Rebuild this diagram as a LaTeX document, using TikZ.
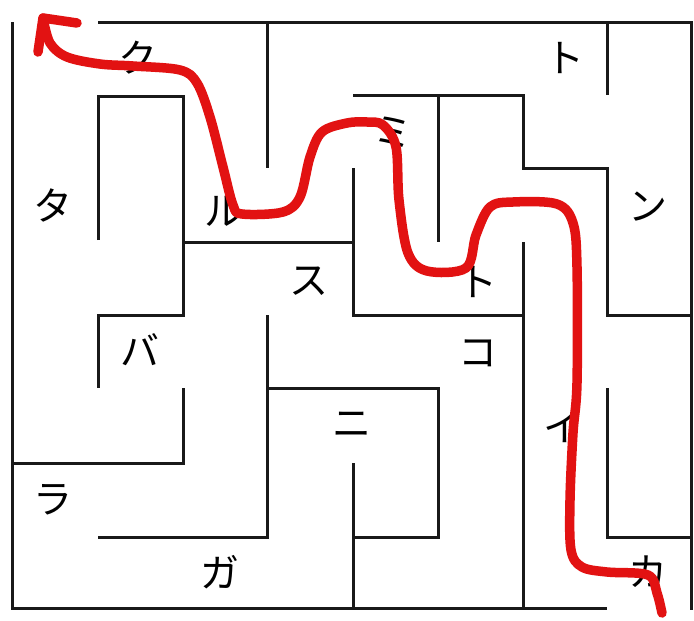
\documentclass[tikz,border=0pt]{standalone}
\usepackage{fontspec}
\newfontfamily\jpfont{Noto Sans CJK JP}
\definecolor{pathred}{RGB}{226,18,18}
\definecolor{wallgray}{RGB}{25,25,25}
\begin{document}
\begin{tikzpicture}[x=1pt,y=-1pt,
  wall/.style={draw=wallgray,line width=3pt,line join=miter},
  lbl/.style={font=\jpfont\fontsize{39}{39}\selectfont,inner sep=0pt,text=black},
  route/.style={draw=pathred,line width=9.5pt,line cap=round,line join=round}]
\useasboundingbox[fill=white] (0,0) rectangle (694,621);
% outer walls
\draw[wall] (98,22) -- (691,22) -- (691,610);
\draw[wall] (12,22) -- (12,608) -- (607,608);
% inner walls
\draw[wall] (267,22) -- (267,168);
\draw[wall] (98,240) -- (98,96) -- (183,96) -- (183,315) -- (98,315) -- (98,388);
\draw[wall] (183,242) -- (353,242);
\draw[wall] (353,168) -- (353,315) -- (523,315);
\draw[wall] (523,242) -- (523,608);
\draw[wall] (353,95) -- (523,95) -- (523,168) -- (607,168) -- (607,315) -- (691,315);
\draw[wall] (438,95) -- (438,242);
\draw[wall] (607,22) -- (607,95);
\draw[wall] (183,388) -- (183,463) -- (12,463);
\draw[wall] (267,315) -- (267,537) -- (98,537);
\draw[wall] (267,388) -- (438,388) -- (438,537) -- (353,537);
\draw[wall] (353,463) -- (353,608);
\draw[wall] (607,388) -- (607,537) -- (691,537);
% labels
\node[lbl] (ku) at (138,58) {ク};
\node[lbl] (to1) at (565,58) {ト};
\node[lbl] (mi) at (393,132) {ミ};
\node[lbl] (ta) at (53,205) {タ};
\node[lbl] (ru) at (224,211) {ル};
\node[lbl] (n) at (648,207) {ン};
\node[lbl] (su) at (309,281) {ス};
\node[lbl] (to2) at (478,282) {ト};
\node[lbl] (ba) at (140,350) {バ};
\node[lbl] (ko) at (478,353) {コ};
\node[lbl] (ni) at (352,425) {ニ};
\node[lbl] (i) at (563,427) {イ};
\node[lbl] (ra) at (53,500) {ラ};
\node[lbl] (ga) at (220,572) {ガ};
\node[lbl] (ka) at (648,572) {カ};
% route
\draw[route] plot[smooth,tension=0.55] coordinates {
 (662,613) (657,593) (648,575) (607,572) (582,567) (571,550) (570,500)
 (573,433) (577,383) (577,267) (573,223) (557,204) (513,202) (490,207)
 (476,235) (466,268) (427,271) (408,253) (399,200) (396,147) (383,125)
 (367,122) (347,123) (322,132) (310,157) (300,197) (283,212) (242,214)
 (233,205) (223,167) (210,117) (197,83) (180,70) (133,66) (100,64)
 (67,57) (50,43) (43,18)};
\draw[route] (38,52) -- (43,18) -- (77,23);
\end{tikzpicture}
\end{document}
